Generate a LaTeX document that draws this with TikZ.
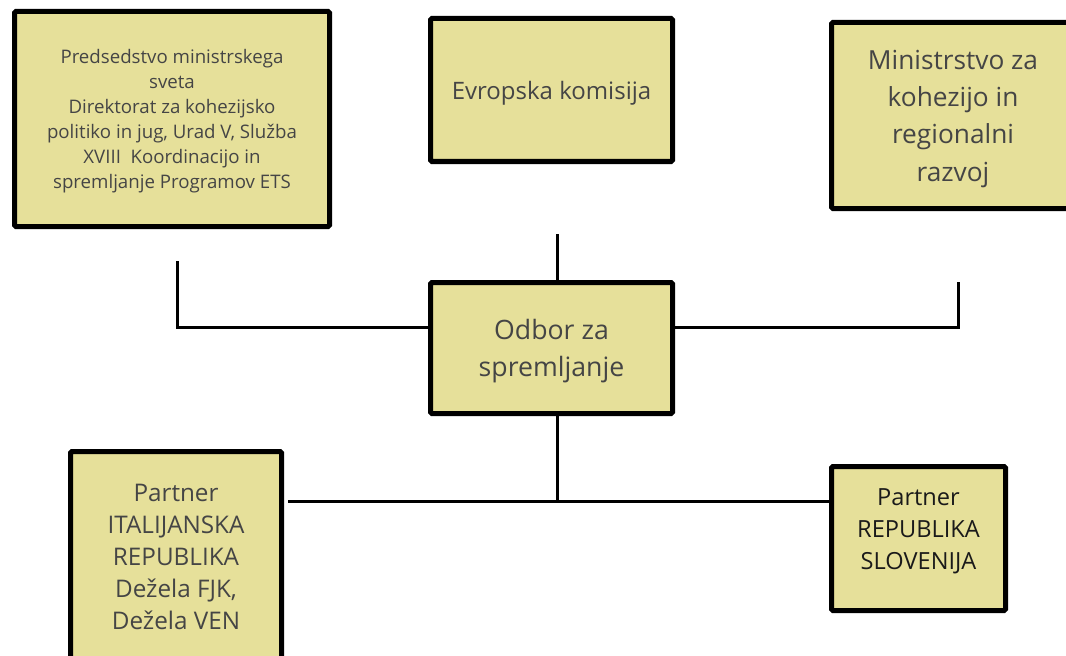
\documentclass[tikz,border=0pt]{standalone}
\usepackage{fontspec}
\setmainfont{Open Sans}
\definecolor{boxfill}{HTML}{E6E09A}
\definecolor{boxtext}{HTML}{454545}
\definecolor{darktext}{HTML}{1A1A1A}

\begin{document}
\begin{tikzpicture}[x=.75pt,y=-.75pt,
  box/.style={draw=black,line width=3.75pt,fill=boxfill,rounded corners=1pt,
    align=center,text=boxtext,inner sep=0pt},
  link/.style={line width=2.25pt}]
\useasboundingbox (0,0) rectangle (1066,656);
\clip (0,0) rectangle (1066,656);

\draw (172,119) node[box,text depth=-7.5pt,minimum width=236.25pt,minimum height=161.25pt,
  font=\fontsize{14}{18.75}\selectfont] (pred)
  {Predsedstvo ministrskega\\sveta\\Direktorat za kohezijsko\\politiko in jug, Urad V, Služba\\XVIII\ \ Koordinacijo in\\spremljanje Programov ETS};
\draw (551.5,90) node[box,text depth=-6pt,minimum width=181.5pt,minimum height=107.25pt,
  font=\fontsize{18}{24}\selectfont] (ek) {Evropska komisija};
\draw (953,115.5) node[box,text depth=-9.5pt,minimum width=182.25pt,minimum height=139.5pt,
  font=\fontsize{19.7}{28}\selectfont] (min)
  {Ministrstvo za\\kohezijo in\\regionalni\\razvoj};

\draw (551.5,348) node[box,text depth=-8pt,minimum width=181.5pt,minimum height=98.25pt,
  font=\fontsize{20}{28}\selectfont] (odbor) {Odbor za\\spremljanje};

\draw (176,557) node[box,minimum width=158.25pt,minimum height=158.25pt,
  font=\fontsize{18.2}{24}\selectfont] (partit)
  {Partner\\ITALIJANSKA\\REPUBLIKA\\Dežela FJK,\\Dežela VEN};
\draw (918.5,538.5) node[box,text depth=14pt,minimum width=130.5pt,minimum height=108pt,
  text=darktext,font=\fontsize{17.7}{24}\selectfont] (partsi)
  {Partner\\REPUBLIKA\\SLOVENIJA};

% connectors
\coordinate (ekend) at (557,234);
\coordinate (predend) at (177,261);
\coordinate (minend) at (958,282);
\coordinate (midrow) at (557,327);
\coordinate (fork) at (557,501);

\draw[link] (ekend) -- (ekend |- odbor.north);
\draw[link] (predend) |- (odbor.west |- midrow);
\draw[link] (minend) |- (odbor.east |- midrow);
\draw[link] (fork |- odbor.south) -- (fork);
\draw[link] ([xshift=3pt]partit.east |- fork) -- (partsi.west |- fork);
\end{tikzpicture}
\end{document}
